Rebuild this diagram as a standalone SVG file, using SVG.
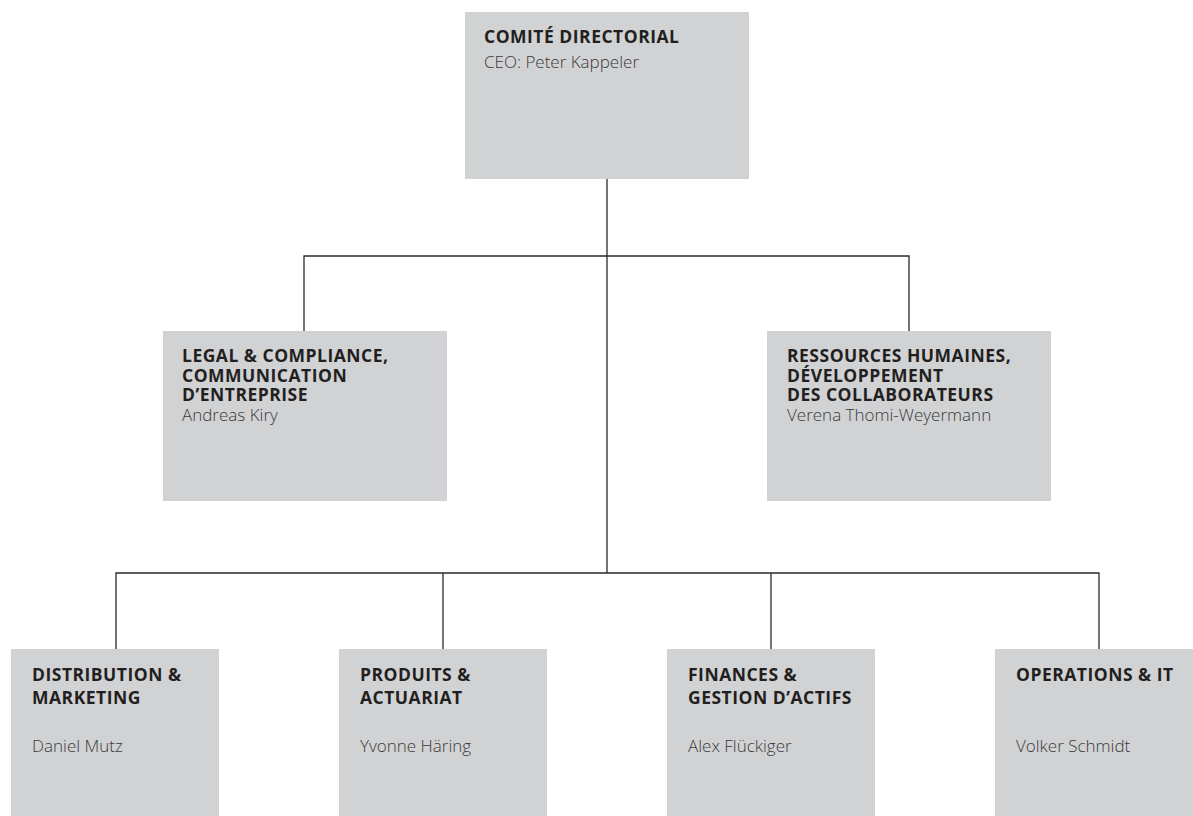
<svg xmlns="http://www.w3.org/2000/svg" width="1193" height="816" viewBox="0 0 1193 816">
<style>
.box{fill:#d1d2d4}
.t{font-family:"Open Sans","Noto Sans","Liberation Sans",sans-serif;font-size:17.5px;font-weight:700;letter-spacing:0.5px;fill:#231f20}
.n{font-family:"Open Sans","Noto Sans","Liberation Sans",sans-serif;font-size:17px;font-weight:300;fill:#3a3a3a}
.c{stroke:#2a2a2a;stroke-width:1.3;fill:none}
</style>
<rect width="1193" height="816" fill="#ffffff"/>
<g id="connectors">
<path class="c" d="M607,179 V573"/>
<path class="c" d="M304,331 V256 H909 V331"/>
<path class="c" d="M116,649 V573 H1099 V649"/>
<path class="c" d="M443,573 V649"/>
<path class="c" d="M771,573 V649"/>
</g>
<g id="node-comite">
<rect class="box" x="465" y="12" width="284" height="167"/>
<text class="t" x="484" y="43">COMITÉ DIRECTORIAL</text>
<text class="n" x="484" y="68">CEO: Peter Kappeler</text>
</g>
<g id="node-legal">
<rect class="box" x="163" y="331" width="284" height="170"/>
<text class="t" x="182" y="362">LEGAL &amp; COMPLIANCE,</text>
<text class="t" x="182" y="382">COMMUNICATION</text>
<text class="t" x="182" y="401">D’ENTREPRISE</text>
<text class="n" x="182" y="421">Andreas Kiry</text>
</g>
<g id="node-rh">
<rect class="box" x="767" y="331" width="284" height="170"/>
<text class="t" x="787" y="362">RESSOURCES HUMAINES,</text>
<text class="t" x="787" y="382">DÉVELOPPEMENT</text>
<text class="t" x="787" y="401">DES COLLABORATEURS</text>
<text class="n" x="787" y="421">Verena Thomi-Weyermann</text>
</g>
<g id="node-distribution">
<rect class="box" x="11" y="649" width="208" height="170"/>
<text class="t" x="32" y="681">DISTRIBUTION &amp;</text>
<text class="t" x="32" y="704">MARKETING</text>
<text class="n" x="32" y="752">Daniel Mutz</text>
</g>
<g id="node-produits">
<rect class="box" x="339" y="649" width="208" height="170"/>
<text class="t" x="360" y="681">PRODUITS &amp;</text>
<text class="t" x="360" y="704">ACTUARIAT</text>
<text class="n" x="360" y="752">Yvonne Häring</text>
</g>
<g id="node-finances">
<rect class="box" x="667" y="649" width="208" height="170"/>
<text class="t" x="688" y="681">FINANCES &amp;</text>
<text class="t" x="688" y="704">GESTION D’ACTIFS</text>
<text class="n" x="688" y="752">Alex Flückiger</text>
</g>
<g id="node-operations">
<rect class="box" x="995" y="649" width="208" height="170"/>
<text class="t" x="1016" y="681">OPERATIONS &amp; IT</text>
<text class="n" x="1016" y="752">Volker Schmidt</text>
</g>
</svg>
